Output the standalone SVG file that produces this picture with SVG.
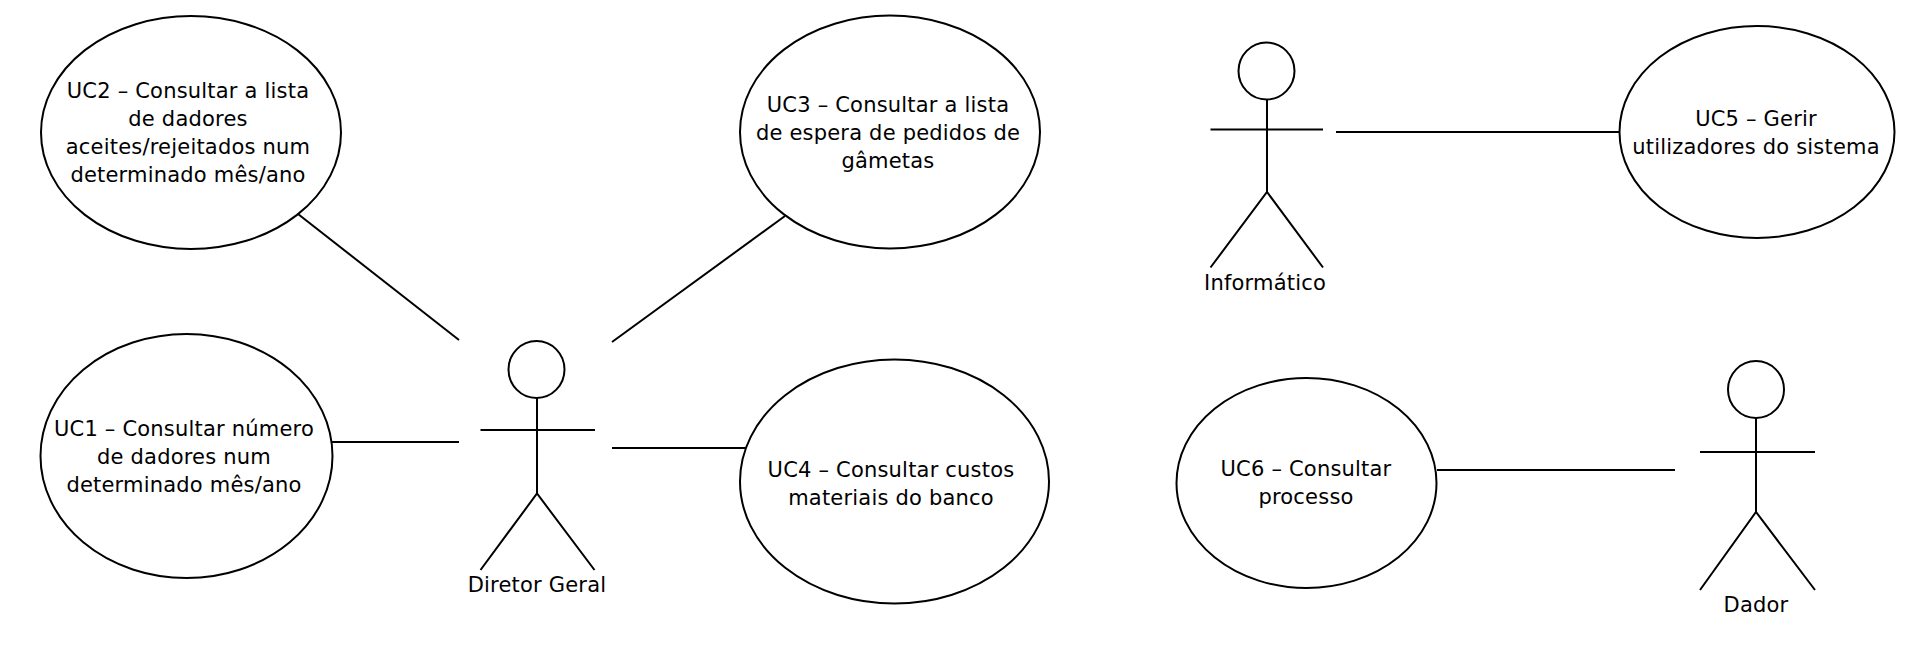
<svg xmlns="http://www.w3.org/2000/svg" width="1924" height="652" viewBox="0 0 1924 652">
<style>
.s{fill:none;stroke:#000;stroke-width:2}
.u{fill:#fff;stroke:#000;stroke-width:2}
text{font-family:"DejaVu Sans",sans-serif;font-size:21px;letter-spacing:.2px;fill:#000;text-anchor:middle}
</style>
<rect width="1924" height="652" fill="#fff"/>
<g id="connectors" class="s">
<line x1="298" y1="214" x2="459" y2="340"/>
<line x1="785" y1="216" x2="612" y2="342"/>
<line x1="332" y1="442" x2="459" y2="442"/>
<line x1="612" y1="448" x2="746" y2="448"/>
<line x1="1336" y1="132" x2="1621" y2="132"/>
<line x1="1437" y1="470" x2="1675" y2="470"/>
</g>
<g id="uc2"><ellipse class="u" cx="191" cy="132.500" rx="150" ry="116.500"/>
<text x="188" y="98">UC2 – Consultar a lista</text><text x="188" y="126">de dadores</text><text x="188" y="154">aceites/rejeitados num</text><text x="188" y="182">determinado mês/ano</text></g>
<g id="uc1"><ellipse class="u" cx="186.500" cy="456" rx="146" ry="122"/>
<text x="184" y="436">UC1 – Consultar número</text><text x="184" y="464">de dadores num</text><text x="184" y="492">determinado mês/ano</text></g>
<g id="uc3"><ellipse class="u" cx="890" cy="132" rx="150" ry="116.500"/>
<text x="888" y="112">UC3 – Consultar a lista</text><text x="888" y="140">de espera de pedidos de</text><text x="888" y="168">gâmetas</text></g>
<g id="uc4"><ellipse class="u" cx="894.500" cy="481.500" rx="154.500" ry="122"/>
<text x="891" y="477">UC4 – Consultar custos</text><text x="891" y="505">materiais do banco</text></g>
<g id="uc5"><ellipse class="u" cx="1757" cy="132" rx="137.500" ry="106"/>
<text x="1756" y="126">UC5 – Gerir</text><text x="1756" y="154">utilizadores do sistema</text></g>
<g id="uc6"><ellipse class="u" cx="1306.500" cy="483" rx="130" ry="105"/>
<text x="1306" y="476">UC6 – Consultar</text><text x="1306" y="504">processo</text></g>
<g id="diretor" class="s"><ellipse cx="536.500" cy="369.500" rx="28" ry="28.500"/>
<path d="M537 398V493.500M480.500 430H595M480.500 570L537 493.500L594.500 570"/></g>
<text x="537" y="592">Diretor Geral</text>
<g id="informatico" class="s"><ellipse cx="1266.500" cy="71" rx="28" ry="28.500"/>
<path d="M1267 100V192M1210.500 129.500H1323M1210.500 267.500L1267 192L1323 267.500"/></g>
<text x="1265" y="290">Informático</text>
<g id="dador" class="s"><ellipse cx="1756" cy="389.500" rx="28" ry="28.500"/>
<path d="M1756 418V512M1700 452H1815M1700 590L1756 512L1815 590"/></g>
<text x="1756" y="612">Dador</text>
</svg>
